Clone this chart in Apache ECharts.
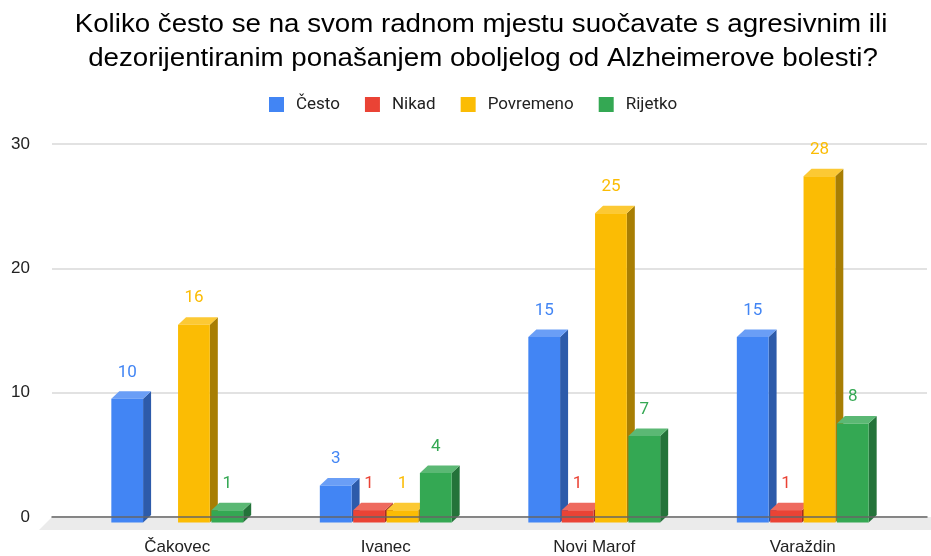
<!DOCTYPE html>
<html>
<head>
<meta charset="utf-8">
<script src="https://cdn.jsdelivr.net/npm/echarts@6/dist/echarts.min.js"></script>
<style>html,body{margin:0;padding:0;background:#fff}#c{width:931px;height:556px}</style>
</head>
<body>
<div id="c"></div>
<script>
var titleLines = ['Koliko često se na svom radnom mjestu suočavate s agresivnim ili', 'dezorijentiranim ponašanjem oboljelog od Alzheimerove bolesti?'];
var categories = ['Čakovec', 'Ivanec', 'Novi Marof', 'Varaždin'];
var seriesNames = ['Često', 'Nikad', 'Povremeno', 'Rijetko'];
var cesto = [10, 3, 15, 15];
var nikad = [null, 1, 1, 1];
var povremeno = [16, 1, 25, 28];
var rijetko = [1, 4, 7, 8];
var yTicks = [0, 10, 20, 30];

var values = [cesto, nikad, povremeno, rijetko];
var frontColors = ['#4285F4', '#EA4335', '#FBBC04', '#34A853'];
var topColors = ['#6A9EF6', '#EE6A5E', '#FCC934', '#5BB874'];
var sideColors = ['#2D5BAA', '#A32E24', '#A87E03', '#24733A'];

var DX = 8, DY = 7.5;

function makeRender(k) {
  return function (params, api) {
    var v = api.value(1);
    if (v == null || isNaN(v)) return;
    var i = api.value(0);
    var pv = api.coord([i, v]);
    var p0 = api.coord([i, 0]);
    var band = api.size([1, 0])[0];
    var slot = band * 0.16;
    var cx = pv[0] + (k - 1.5) * slot;
    var w = slot - 1.6;
    var x0 = cx - w / 2, x1 = cx + w / 2;
    var yv = pv[1], y0 = p0[1];
    return {
      type: 'group',
      children: [
        { type: 'polygon', shape: { points: [[x1, yv + DY], [x1 + DX, yv], [x1 + DX, y0], [x1, y0 + DY]] }, style: { fill: sideColors[k] } },
        { type: 'polygon', shape: { points: [[x0, yv + DY], [x1, yv + DY], [x1 + DX, yv], [x0 + DX, yv]] }, style: { fill: topColors[k] } },
        { type: 'rect', shape: { x: x0, y: yv + DY, width: w, height: y0 - yv }, style: { fill: frontColors[k] } },
        { type: 'text', x: cx, y: yv - 19, style: { text: String(v), fill: frontColors[k], font: '17px Roboto', align: 'center', verticalAlign: 'middle' } }
      ]
    };
  };
}

var series = values.map(function (arr, k) {
  return {
    name: seriesNames[k],
    type: 'custom',
    xAxisIndex: 1,
    yAxisIndex: 1,
    itemStyle: { color: frontColors[k] },
    renderItem: makeRender(k),
    encode: { x: 0, y: 1 },
    data: arr.map(function (v, i) { return [i, v]; })
  };
});

var chart = echarts.init(document.getElementById('c'), null, { renderer: 'canvas' });
chart.setOption({
  animation: false,
  backgroundColor: '#fff',
  legend: {
    data: seriesNames,
    top: 91, left: 264,
    icon: 'rect', itemWidth: 15, itemHeight: 15, itemGap: 25,
    textStyle: { fontFamily: 'Roboto', fontSize: 17, color: '#222', padding: [0, 0, 0, 7] }
  },
  graphic: [
    { type: 'polygon', z: 1, shape: { points: [[52, 517], [931, 517], [931, 530], [39, 530]] }, style: { fill: '#ebebeb' } },
    { type: 'text', x: 481, y: 24.5, scaleX: 1.065, style: { text: titleLines[0], font: '26px "Liberation Sans", Arial', fill: '#000', align: 'center', verticalAlign: 'middle' } },
    { type: 'text', x: 483, y: 58.5, scaleX: 1.065, style: { text: titleLines[1], font: '26px "Liberation Sans", Arial', fill: '#000', align: 'center', verticalAlign: 'middle' } }
  ],
  grid: [
    { left: 52, right: 4, top: 144, bottom: 39, containLabel: false },
    { left: 73, right: 24, top: 144, bottom: 39, containLabel: false }
  ],
  xAxis: [
    { type: 'value', gridIndex: 0, min: 0, max: 1, show: true, axisLabel: { show: false }, axisTick: { show: false }, splitLine: { show: false }, axisLine: { show: true, onZero: false, lineStyle: { color: '#666', width: 1.5 } }, z: 3 },
    { type: 'category', gridIndex: 1, data: categories, boundaryGap: true, axisLine: { show: false }, axisTick: { show: false }, axisLabel: { margin: 24, fontFamily: '"Liberation Sans", Arial', fontSize: 17, color: '#222' } }
  ],
  yAxis: [
    { type: 'value', gridIndex: 0, min: 0, max: 30, interval: 10, axisLine: { show: false }, axisTick: { show: false },
      axisLabel: { margin: 22, fontFamily: '"Liberation Sans", Arial', fontSize: 17, color: '#222', formatter: function (v) { return yTicks.indexOf(v) >= 0 ? String(v) : ''; } },
      splitLine: { lineStyle: { color: '#d9d9d9', width: 1.5 } } },
    { type: 'value', gridIndex: 1, min: 0, max: 30, interval: 10, show: false, splitLine: { show: false } }
  ],
  series: series
});
</script>
</body>
</html>
